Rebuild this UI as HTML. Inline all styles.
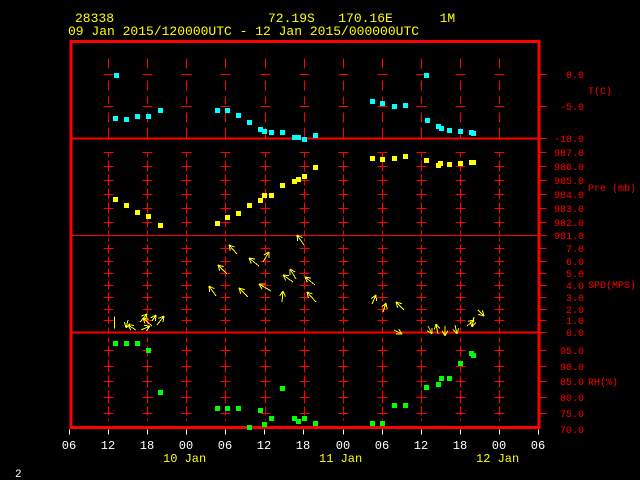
<!DOCTYPE html>
<html><head><meta charset="utf-8"><style>
body{margin:0;background:#000;width:640px;height:480px;overflow:hidden}
svg{display:block}
line,rect{shape-rendering:crispEdges}
text{font-family:"Liberation Mono","DejaVu Sans Mono",monospace}
</style></head><body>
<svg id="s" width="640" height="480" xmlns="http://www.w3.org/2000/svg">
<text x="75" y="22" fill="#ffff00" font-size="13">28338</text>
<text x="268" y="22" fill="#ffff00" font-size="13" xml:space="preserve">72.19S   170.16E      1M</text>
<text x="68" y="35" fill="#ffff00" font-size="13">09 Jan 2015/120000UTC - 12 Jan 2015/000000UTC</text>
<text x="15" y="477" fill="#fff" font-size="11">2</text>
<g id="g"></g>
</svg>
<script>
var g=document.getElementById('g'),h='';
function L(x1,y1,x2,y2,c,w){h+='<line x1="'+x1+'" y1="'+y1+'" x2="'+x2+'" y2="'+y2+'" stroke="'+c+'" stroke-width="'+(w||1)+'"/>';}
function LC(x1,y1,x2,y2,c,w){h+='<line x1="'+(x1+.5)+'" y1="'+(y1+.5)+'" x2="'+(x2+.5)+'" y2="'+(y2+.5)+'" stroke="'+c+'" stroke-width="'+(w||1)+'" style="shape-rendering:crispEdges"/>';}
function T(x,y,s,c,fs,a){h+='<text x="'+x+'" y="'+y+'" fill="'+c+'" font-size="'+fs+'"'+(a?' text-anchor="'+a+'"':'')+'>'+s+'</text>';}
var R='#ff0000';
var xs=[108,147,186,225,265,304,343,382,421,460,499];
var ys=[74,106,138,152,166,180,194,208,222,235,248,261,273,285,297,309,320,332,350,366,381,397,413];
var segs=[[58,68],[80,90],[96,104],[112,122],[127,137]];
var panels=[[149,152,166,180,194,208,222,235],[238,248,261,273,285,297,309,320,332],[337,350,366,381,397,413,420]];
xs.forEach(function(x){
 segs.forEach(function(s){LC(x,s[0],x,s[1],R);});
 panels.forEach(function(p){for(var i=0;i<p.length-1;i++){var m=Math.round((p[i]+p[i+1])/2);LC(x,p[i],x,m-2,R);LC(x,m+1,x,p[i+1],R);}});
 ys.forEach(function(y){if(y!=138&&y!=235&&y!=332)LC(x-5,y,x+5,y,R);});
});
LC(70,138,538,138,R,2);LC(70,235,538,235,R,1);LC(70,332,538,332,R,2);
h+='<rect x="71" y="41.5" width="468" height="386" fill="none" stroke="'+R+'" stroke-width="3"/>';
ys.forEach(function(y){LC(539,y,546,y,R);});
var lab=['0.0','-5.0','-10.0','987.0','986.0','985.0','984.0','983.0','982.0','901.0','7.0','6.0','5.0','4.0','3.0','2.0','1.0','0.0','95.0','90.0','85.0','80.0','75.0','70.0'];
var ly=[74,106,138,152,166,180,194,208,222,235,248,261,273,285,297,309,320,332,350,366,381,397,413,429];
lab.forEach(function(s,i){T(584,ly[i]+4,s,R,10,'end');});
T(588,94,'T(C)',R,10);T(588,191,'Pre (mb)',R,10);T(588,288,'SPD(MPS)',R,10);T(588,385,'RH(%)',R,10);
var xl=['06','12','18','00','06','12','18','00','06','12','18','00','06'];
xl.forEach(function(s,i){var x=Math.round(69+i*39.08);T(x,449,s,'#fff',12,'middle');LC(x,429,x,434,'#fff');});
T(163,462,'10 Jan','#ffff00',12);T(319,462,'11 Jan','#ffff00',12);T(476,462,'12 Jan','#ffff00',12);
function P(a,c){a.forEach(function(p){h+='<rect x="'+(p[0]-2)+'" y="'+(p[1]-2)+'" width="5" height="5" fill="'+c+'"/>';});}
P([[116,75],[115,118],[126,119],[137,116],[148,116],[160,110],[217,110],[227,110],[238,115],[249,122],[260,129],[264,131],[271,132],[282,132],[294,137],[298,137],[304,139],[315,135],[372,101],[382,103],[394,106],[405,105],[426,75],[427,120],[438,126],[441,128],[449,130],[460,131],[471,132],[473,133]],'#00ffff');
P([[115,199],[126,205],[137,212],[148,216],[160,225],[217,223],[227,217],[238,213],[249,205],[260,200],[264,195],[271,195],[282,185],[294,181],[298,179],[304,176],[315,167],[372,158],[382,159],[394,158],[405,156],[426,160],[438,165],[440,163],[449,164],[460,163],[471,162],[473,162]],'#ffff00');
P([[115,343],[126,343],[137,343],[148,350],[160,392],[217,408],[227,408],[238,408],[249,427],[260,410],[264,424],[271,418],[282,388],[294,418],[298,421],[304,418],[315,423],[372,423],[382,423],[394,405],[405,405],[426,387],[438,384],[441,378],[449,378],[460,363],[471,353],[473,355]],'#00ff00');
var Y='#ffff00';
function A(x1,y1,x2,y2){L(x1,y1,x2,y2,Y);var a=Math.atan2(y2-y1,x2-x1);[0.5,-0.5].forEach(function(d){L(x2,y2,x2-6*Math.cos(a+d),y2-6*Math.sin(a+d),Y);});}
[[237,254,229,245],[227,274,218,265],[216,296,209,286],[259,266,249,258],[263,262,269,252],[248,297,239,288],[271,291,259,284],[282,302,283,291],[296,279,290,269],[293,282,283,275],[304,245,297,235],[315,285,305,277],[316,302,307,292],
[128,320,126,328],[136,330,128,325],[140,322,147,314],[152,326,143,318],[152,321,156,315],[157,325,164,316],[141,330,150,326],
[372,304,376,295],[383,312,386,303],[404,310,396,302],[394,330,402,334],[428,326,432,334],[438,334,436,324],[445,326,445,336],[455,325,457,334],[474,317,472,327],[478,310,484,316],[467,326,474,320]].forEach(function(a){A(a[0],a[1],a[2],a[3]);});
LC(114,316,114,328,Y);
g.innerHTML=h;
</script>
</body></html>
